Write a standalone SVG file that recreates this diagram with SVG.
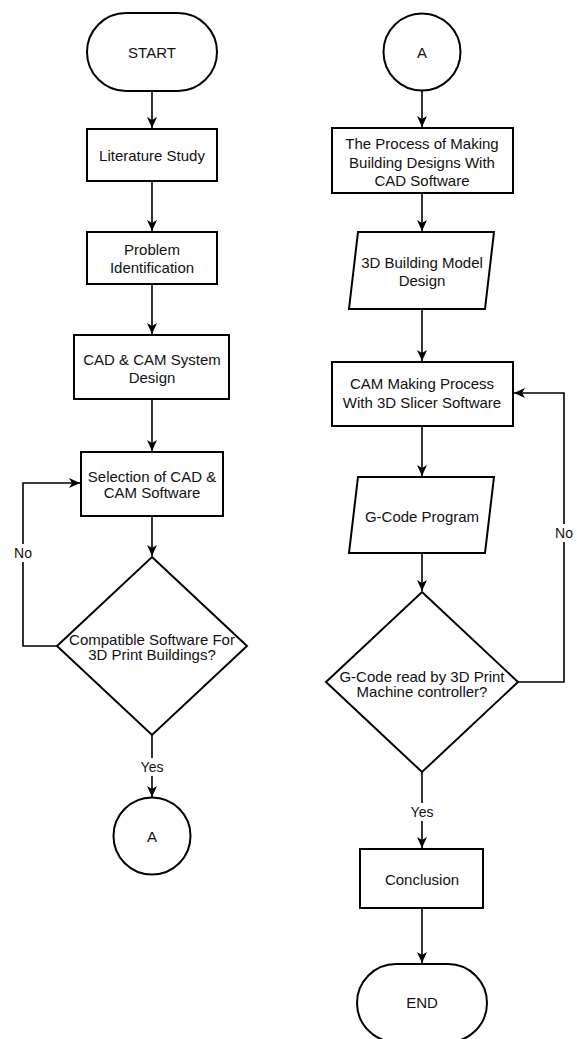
<svg xmlns="http://www.w3.org/2000/svg" width="577" height="1039" viewBox="0 0 577 1039">
<style>
.s{fill:#fff;stroke:#000;stroke-width:2}
.t{font-family:"Liberation Sans",Arial,sans-serif;font-size:15px;fill:#111;text-anchor:middle}
.l{font-family:"Liberation Sans",Arial,sans-serif;font-size:14px;fill:#111;text-anchor:middle}
.c{fill:none;stroke:#000;stroke-width:1.6}
.lb{fill:#fff}
</style>
<defs>
<marker id="ah" markerUnits="userSpaceOnUse" markerWidth="12" markerHeight="10" refX="11" refY="5" orient="auto">
<path d="M0,0 L11,5 L0,10 L3,5 z" fill="#000"/>
</marker>
</defs>
<rect width="577" height="1039" fill="#fff"/>
<g id="connectors">
<path class="c" d="M152,91 V128" marker-end="url(#ah)"/>
<path class="c" d="M152,181 V231" marker-end="url(#ah)"/>
<path class="c" d="M152,284 V334" marker-end="url(#ah)"/>
<path class="c" d="M152,399 V451" marker-end="url(#ah)"/>
<path class="c" d="M152,516 V556" marker-end="url(#ah)"/>
<path class="c" d="M57,646 H23 V483 H80" marker-end="url(#ah)"/>
<path class="c" d="M152,735 V797" marker-end="url(#ah)"/>
<path class="c" d="M422,91 V127" marker-end="url(#ah)"/>
<path class="c" d="M422,193 V231" marker-end="url(#ah)"/>
<path class="c" d="M422,309 V361" marker-end="url(#ah)"/>
<path class="c" d="M422,426 V476" marker-end="url(#ah)"/>
<path class="c" d="M422,553 V591" marker-end="url(#ah)"/>
<path class="c" d="M518,682 H564 V393 H514" marker-end="url(#ah)"/>
<path class="c" d="M422,772 V848" marker-end="url(#ah)"/>
<path class="c" d="M422,908 V963" marker-end="url(#ah)"/>
<rect class="lb" x="12" y="544" width="22" height="18"/>
<text class="l" x="23" y="558">No</text>
<rect class="lb" x="139" y="758" width="26" height="18"/>
<text class="l" x="152" y="772">Yes</text>
<rect class="lb" x="553" y="524" width="22" height="18"/>
<text class="l" x="564" y="538">No</text>
<rect class="lb" x="409" y="803" width="26" height="18"/>
<text class="l" x="422" y="817">Yes</text>
</g>
<g id="start">
<rect class="s" x="87" y="13" width="130" height="78" rx="39" ry="39"/>
<text class="t" x="152" y="58">START</text>
</g>
<g id="literature">
<rect class="s" x="87" y="129" width="130" height="52"/>
<text class="t" x="152" y="161">Literature Study</text>
</g>
<g id="problem">
<rect class="s" x="87" y="232" width="130" height="52"/>
<text class="t" x="152" y="255">Problem</text>
<text class="t" x="152" y="273">Identification</text>
</g>
<g id="system-design">
<rect class="s" x="74" y="335" width="155" height="64"/>
<text class="t" x="152" y="365">CAD &amp; CAM System</text>
<text class="t" x="152" y="383">Design</text>
</g>
<g id="selection">
<rect class="s" x="81" y="452" width="142" height="64"/>
<text class="t" x="152" y="482">Selection of CAD &amp;</text>
<text class="t" x="152" y="498">CAM Software</text>
</g>
<g id="compatible">
<polygon class="s" points="152,557 247,646 152,735 57,646"/>
<text class="t" x="152" y="645">Compatible Software For</text>
<text class="t" x="152" y="660">3D Print Buildings?</text>
</g>
<g id="connector-a-out">
<circle class="s" cx="152" cy="836" r="38.5"/>
<text class="t" x="152" y="842">A</text>
</g>
<g id="connector-a-in">
<circle class="s" cx="422" cy="52" r="38.5"/>
<text class="t" x="422" y="58">A</text>
</g>
<g id="cad-process">
<rect class="s" x="332" y="128" width="181" height="65"/>
<text class="t" x="422" y="149">The Process of Making</text>
<text class="t" x="422" y="168">Building Designs With</text>
<text class="t" x="422" y="186">CAD Software</text>
</g>
<g id="model-design">
<polygon class="s" points="358,232 494,232 485,309 349,309"/>
<text class="t" x="422" y="268">3D Building Model</text>
<text class="t" x="422" y="286">Design</text>
</g>
<g id="cam-process">
<rect class="s" x="332" y="362" width="181" height="64"/>
<text class="t" x="422" y="389">CAM Making Process</text>
<text class="t" x="422" y="408">With 3D Slicer Software</text>
</g>
<g id="gcode">
<polygon class="s" points="358,477 494,477 485,553 349,553"/>
<text class="t" x="422" y="522">G-Code Program</text>
</g>
<g id="gcode-read">
<polygon class="s" points="422,592 518,682 422,772 326,682"/>
<text class="t" x="422" y="682">G-Code read by 3D Print</text>
<text class="t" x="422" y="697">Machine controller?</text>
</g>
<g id="conclusion">
<rect class="s" x="360" y="849" width="123" height="59"/>
<text class="t" x="422" y="885">Conclusion</text>
</g>
<g id="end">
<rect class="s" x="357" y="964" width="130" height="78" rx="39" ry="39"/>
<text class="t" x="422" y="1008">END</text>
</g>
</svg>
